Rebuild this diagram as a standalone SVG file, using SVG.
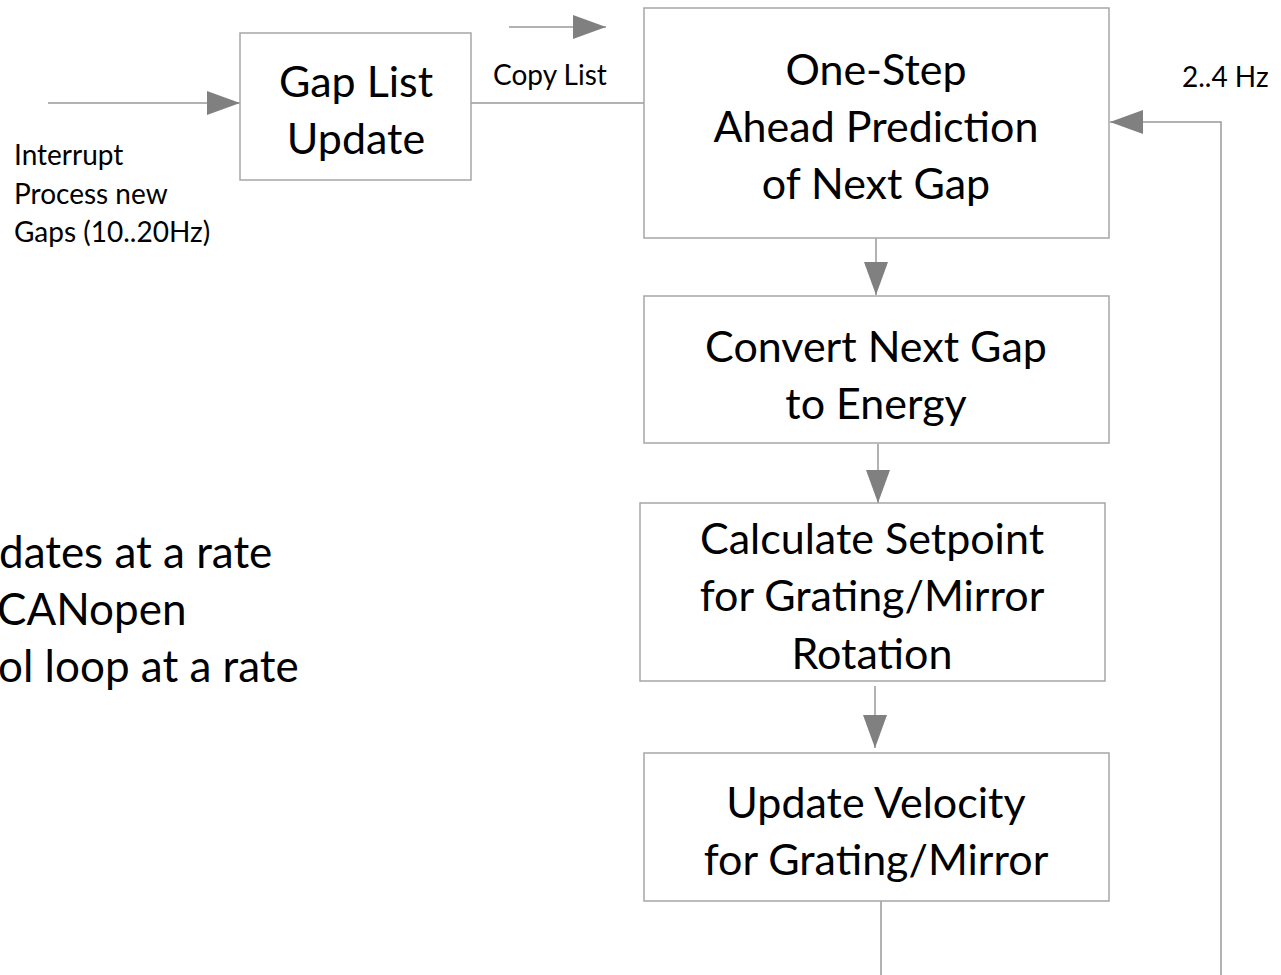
<svg xmlns="http://www.w3.org/2000/svg" width="1281" height="975" viewBox="0 0 1281 975">
<defs>
<style>
.box{fill:#fff;stroke:#a6a6a6;stroke-width:1.5}
.ln{fill:none;stroke:#999;stroke-width:1.5}
.big{font-family:Lato,"Liberation Sans",sans-serif;font-size:43px;fill:#000;text-anchor:middle}
.lbig{font-family:Lato,"Liberation Sans",sans-serif;font-size:44px;fill:#000}
.sm{font-family:Lato,"Liberation Sans",sans-serif;font-size:28px;fill:#000}
</style>
<marker id="ah" markerUnits="userSpaceOnUse" markerWidth="34" markerHeight="24" refX="33" refY="12" orient="auto">
<path d="M0,0 L33,12 L0,24 Z" fill="#808080"/>
</marker>
</defs>
<rect width="1281" height="975" fill="#fff"/>
<g id="connectors">
<line class="ln" x1="48" y1="103" x2="240" y2="103" marker-end="url(#ah)"/>
<line class="ln" x1="471" y1="103" x2="644" y2="103"/>
<line class="ln" x1="509" y1="27" x2="606" y2="27" marker-end="url(#ah)"/>
<line class="ln" x1="876" y1="233" x2="876" y2="295" marker-end="url(#ah)"/>
<line class="ln" x1="878" y1="444" x2="878" y2="503" marker-end="url(#ah)"/>
<line class="ln" x1="875" y1="686" x2="875" y2="748" marker-end="url(#ah)"/>
<line class="ln" x1="881" y1="901" x2="881" y2="975"/>
<polyline class="ln" points="1221,975 1221,122 1110,122" marker-end="url(#ah)"/>
</g>
<g id="gap-list-update">
<rect class="box" x="240" y="33" width="231" height="147"/>
<text class="big" x="356" y="97">Gap List</text>
<text class="big" x="356" y="154">Update</text>
</g>
<g id="one-step">
<rect class="box" x="644" y="8" width="465" height="230"/>
<text class="big" x="876" y="85">One-Step</text>
<text class="big" x="876" y="142">Ahead Prediction</text>
<text class="big" x="876" y="199">of Next Gap</text>
</g>
<g id="convert">
<rect class="box" x="644" y="296" width="465" height="147"/>
<text class="big" x="876" y="362">Convert Next Gap</text>
<text class="big" x="876" y="419">to Energy</text>
</g>
<g id="calculate">
<rect class="box" x="640" y="503" width="465" height="178"/>
<text class="big" x="872" y="554">Calculate Setpoint</text>
<text class="big" x="872" y="611">for Grating/Mirror</text>
<text class="big" x="872" y="669">Rotation</text>
</g>
<g id="update-velocity">
<rect class="box" x="644" y="753" width="465" height="148"/>
<text class="big" x="876" y="818">Update Velocity</text>
<text class="big" x="876" y="875">for Grating/Mirror</text>
</g>
<g id="labels">
<text class="sm" x="14" y="165">Interrupt</text>
<text class="sm" x="14" y="204">Process new</text>
<text class="sm" x="14" y="242">Gaps (10..20Hz)</text>
<text class="sm" x="493" y="85">Copy List</text>
<text class="sm" x="1182" y="87">2..4 Hz</text>
<text class="lbig" x="-1" y="568">dates at a rate</text>
<text class="lbig" x="-3" y="625">CANopen</text>
<text class="lbig" x="-2" y="682">ol loop at a rate</text>
</g>
</svg>
